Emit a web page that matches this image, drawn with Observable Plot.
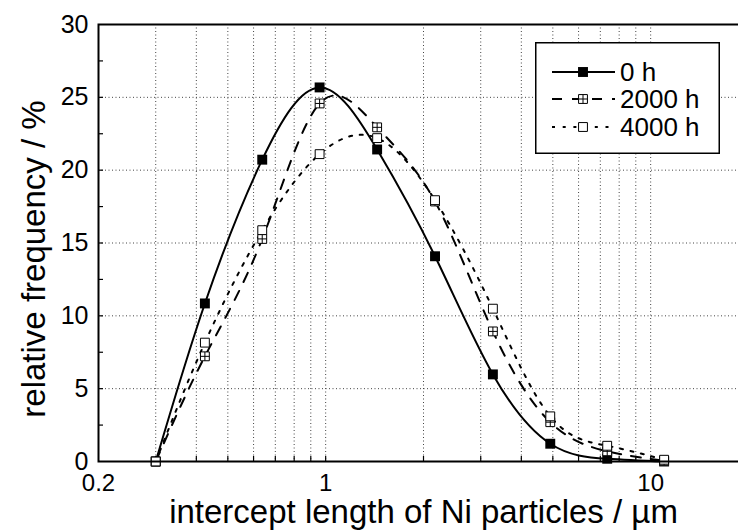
<!DOCTYPE html>
<html>
<head>
<meta charset="utf-8">
<script src="https://cdn.jsdelivr.net/npm/d3@7"></script>
<script src="https://cdn.jsdelivr.net/npm/@observablehq/plot@0.6"></script>
<style>
  body { margin: 0; background: white; }
  #chart { position: relative; width: 738px; height: 530px; overflow: hidden; }
  #legend { position: absolute; left: 535px; top: 42px; }
</style>
</head>
<body>
<div id="chart"></div>
<script>
// Intercept length classes (µm) and relative frequencies (%) after ageing
const sizes     = [0.3, 0.425, 0.638, 0.958, 1.44, 2.17, 3.27, 4.91, 7.35, 11.0];
const freq0h    = [0, 10.85, 20.72, 25.68, 21.42, 14.09, 5.98, 1.22, 0.19, 0];
const freq2000h = [0, 7.22, 15.28, 24.58, 22.94, 17.85, 8.93, 2.7, 0.7, 0.05];
const freq4000h = [0, 8.16, 15.88, 21.1, 22.2, 17.94, 10.49, 3.1, 1.08, 0.12];

const seriesNames = ["0 h", "2000 h", "4000 h"];
const xLabelTicks = [0.2, 1, 10];
const xGridTicks = [0.3, 0.4, 0.5, 0.6, 0.7, 0.8, 0.9, 1, 2, 3, 4, 5, 6, 7, 8, 9, 10];
const yLabelTicks = [0, 5, 10, 15, 20, 25, 30];
const yGridTicks = [5, 10, 15, 20, 25];
const yMinorTicks = [2.5, 5, 7.5, 10, 12.5, 15, 17.5, 20, 22.5, 25, 27.5];

const rows = (vals) => sizes.map((s, i) => ({size: s, freq: vals[i]}));
const d0 = rows(freq0h), d2000 = rows(freq2000h), d4000 = rows(freq4000h);

// square with a cross inside (⊞)
const crossedSquare = {
  draw(ctx, size) {
    const s = Math.sqrt(size) / 2;
    ctx.moveTo(-s, -s); ctx.lineTo(s, -s); ctx.lineTo(s, s); ctx.lineTo(-s, s); ctx.closePath();
    ctx.moveTo(-s, 0); ctx.lineTo(s, 0);
    ctx.moveTo(0, -s); ctx.lineTo(0, s);
  }
};

const font = "'Liberation Sans', Arial, Helvetica, sans-serif";
const styles = {
  "0 h":    {dash: null,    symbol: "square",      fill: "black", r: 5.6},
  "2000 h": {dash: "10,10", symbol: crossedSquare, fill: "white", r: 5.0},
  "4000 h": {dash: "3,7.7", symbol: "square",      fill: "white", r: 5.0}
};

const lineMark = (data, name) => Plot.line(data, {
  x: "size", y: "freq", curve: "natural", stroke: "black", strokeWidth: 2,
  strokeDasharray: styles[name].dash
});
const dotMark = (data, name) => Plot.dot(data, {
  x: "size", y: "freq", symbol: styles[name].symbol, r: styles[name].r,
  fill: styles[name].fill, stroke: "black", strokeWidth: name === "0 h" ? 0 : 1
});

const plot = Plot.plot({
  width: 738,
  height: 530,
  marginTop: 24,
  marginBottom: 69,
  marginLeft: 98,
  marginRight: -10,
  style: {fontFamily: font, background: "white", color: "black"},
  x: {type: "log", domain: [0.2, 20]},
  y: {domain: [0, 30]},
  marks: [
    // dotted grid
    Plot.ruleX(xGridTicks, {stroke: "#444", strokeWidth: 1, strokeDasharray: "1,2.5"}),
    Plot.ruleY(yGridTicks, {stroke: "#444", strokeWidth: 1, strokeDasharray: "1,2.5"}),
    // inward ticks
    Plot.ruleX(xGridTicks, {y1: 0, y2: 0, insetBottom: 5, stroke: "black", strokeWidth: 1.2}),
    Plot.ruleY(yMinorTicks, {x1: 0.2, x2: 0.2, insetRight: -5, stroke: "black", strokeWidth: 1.2}),
    // tick labels
    Plot.axisX({ticks: xLabelTicks, tickFormat: d => String(d), tickSize: 0, tickPadding: 12, fontSize: 24, label: null}),
    Plot.axisY({ticks: yLabelTicks, tickFormat: d => String(d), tickSize: 0, tickPadding: 10, fontSize: 25, label: null}),
    // axis titles
    Plot.text(["intercept length of Ni particles / µm"], {frameAnchor: "bottom", textAnchor: "middle", dy: 61, lineAnchor: "bottom", fontSize: 33}),
    Plot.text(["relative frequency / %"], {frameAnchor: "left", textAnchor: "middle", rotate: -90, dx: -54, dy: 16, lineAnchor: "bottom", fontSize: 33}),
    // curves and markers
    lineMark(d0, "0 h"), lineMark(d2000, "2000 h"), lineMark(d4000, "4000 h"),
    dotMark(d0, "0 h"), dotMark(d2000, "2000 h"), dotMark(d4000, "4000 h"),
    Plot.frame({stroke: "black", strokeWidth: 2})
  ]
});

const chart = document.getElementById("chart");
chart.appendChild(plot);

// legend box
const lw = 185, lh = 112;
const legend = d3.create("svg")
  .attr("id", "legend")
  .attr("width", lw).attr("height", lh)
  .style("font-family", font);
legend.append("rect")
  .attr("x", 0.75).attr("y", 0.75).attr("width", lw - 1.5).attr("height", lh - 1.5)
  .attr("fill", "white").attr("stroke", "black").attr("stroke-width", 1.5);
const rowY = [30, 57, 85];
seriesNames.forEach((name, i) => {
  const st = styles[name];
  const g = legend.append("g").attr("transform", `translate(0,${rowY[i]})`);
  g.append("line").attr("x1", 17).attr("x2", 80).attr("y1", 0).attr("y2", 0)
    .attr("stroke", "black").attr("stroke-width", 2)
    .attr("stroke-dasharray", st.dash);
  const sym = d3.symbol().type(typeof st.symbol === "string" ? d3.symbolSquare : st.symbol)
    .size(Math.PI * st.r * st.r);
  g.append("path").attr("d", sym()).attr("transform", "translate(48,0)")
    .attr("fill", st.fill).attr("stroke", "black").attr("stroke-width", name === "0 h" ? 0 : 1);
  g.append("text").attr("x", 85).attr("y", 0).attr("dy", "0.36em")
    .attr("font-size", 26).attr("fill", "black").text(name);
});
chart.appendChild(legend.node());
</script>
</body>
</html>
